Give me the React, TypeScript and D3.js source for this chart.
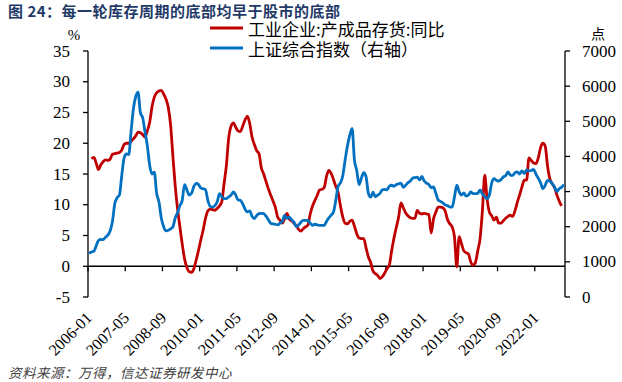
import React from "react";
import * as d3 from "d3";

// 2006-01 .. 2023-01 monthly (205 months)
const months: string[] = d3.range(205).map((i) => {
  const y = 2006 + Math.floor(i / 12);
  const m = (i % 12) + 1;
  return `${y}-${m < 10 ? "0" + m : m}`;
});

const tickLabels = [
  "2006-01", "2007-05", "2008-09", "2010-01", "2011-05", "2012-09", "2014-01",
  "2015-05", "2016-09", "2018-01", "2019-05", "2020-09", "2022-01",
];

const leftTicks = [-5, 0, 5, 10, 15, 20, 25, 30, 35];
const rightTicks = [0, 1000, 2000, 3000, 4000, 5000, 6000, 7000];

// 工业企业:产成品存货:同比 (%), 2006-01 .. 2022-12
const inventoryYoY: (number | null)[] = [
  null, 17.5, 17.7, 16.8, 15.7, 16.5, 17.0, 17.3, 17.2, 17.4,
  18.2, 18.3, 18.4, 18.5, 18.9, 19.8, 20.0, 20.0, 20.3, 20.7,
  21.2, 21.8, 21.7, 21.4, 21.0, 22.0, 23.4, 25.9, 27.5, 28.2,
  28.5, 28.6, 28.0, 27.2, 25.8, 23.0, 17.8, 13.0, 9.3, 6.4,
  3.6, 1.2, -0.2, -0.9, -1.0, -0.4, 1.0, 2.6, 4.3, 5.9,
  7.8, 9.0, 9.3, 9.2, 9.1, 9.4, 9.8, 10.5, 13.5, 16.5,
  21.0, 22.8, 23.3, 22.6, 22.0, 21.9, 22.8, 23.8, 24.4, 23.2,
  21.0, 19.8, 18.8, 18.3, 16.0, 15.0, 13.8, 12.6, 11.6, 10.6,
  9.6, 8.0, 7.5, 7.0, 7.8, 8.6, 7.7, 7.4, 7.0, 6.6,
  6.0, 5.7, 6.1, 6.4, 6.7, 8.5, 9.8, 10.7, 11.5, 12.4,
  12.5, 12.8, 14.6, 15.6, 15.1, 14.1, 13.0, 12.0, 9.8, 8.0,
  7.0, 6.9, 7.3, 7.5, 6.5, 5.3, 4.6, 4.5, 4.5, 3.0,
  1.5, 0.6, -0.8, -1.2, -1.5, -2.0, -1.7, -1.1, -0.4, 0.2,
  2.5, 4.6, 6.3, 8.0, 10.3, 9.5, 8.7, 8.2, 7.9, 7.8,
  7.8, 9.1, 8.6, 8.5, 8.6, 8.5, 8.4, 5.4, 7.7, 8.8,
  9.6, 9.6, 9.5, 9.0, 7.6, 6.9, 6.4, 4.8, -0.1, 4.8,
  3.7, 2.5, 2.2, 2.0, 0.7, 0.2, 0.6, 2.5, 4.5, 9.0,
  14.8, 11.0, 8.8, 8.2, 7.5, 8.0, 7.0, 7.0, 7.4, 7.8,
  8.1, 8.3, 8.1, 9.0, 10.4, 11.6, 12.9, 14.0, 14.0, 17.6,
  17.2, 16.8, 16.7, 17.6, 19.3, 20.0, 19.5, 16.3, 14.2, 13.4,
  12.8, 11.6, 10.6, 9.8,
];

// 上证综合指数 (点), 2006-01 .. 2023-01
const shIndex: number[] = [
  1240, 1280, 1300, 1450, 1610, 1640, 1630, 1700, 1760, 1880,
  2150, 2650, 2820, 2900, 3450, 3950, 4070, 4050, 4700, 5350,
  5700, 5830, 5250, 5100, 4700, 4300, 3750, 3500, 3550, 2950,
  2700, 2250, 2000, 1880, 1900, 1940, 2000, 2250, 2400, 2600,
  2750, 3200, 3050, 2900, 2950, 3150, 3230, 3200, 3100, 3080,
  3050, 2750, 2580, 2560, 2600, 2700, 2940, 2850, 2800, 2800,
  2850, 2900, 2990, 2900, 2760, 2750, 2650, 2500, 2420, 2450,
  2300, 2230, 2320, 2370, 2380, 2370, 2300, 2200, 2100, 2080,
  2070, 2050, 2100, 2150, 2320, 2240, 2270, 2200, 2130, 2000,
  2050, 2130, 2180, 2180, 2180, 2100, 2040, 2070, 2050, 2040,
  2040, 2040, 2150, 2250, 2330, 2420, 2750, 3150, 3250, 3450,
  3900, 4300, 4600, 4800, 3900, 3600, 3200, 3380, 3540, 3420,
  2950, 2840, 2980, 2850, 2900, 2950, 3050, 3060, 3050, 3150,
  3180, 3150, 3200, 3220, 3240, 3120, 3180, 3250, 3300, 3380,
  3400, 3410, 3330, 3430, 3300, 3240, 3200, 3110, 3130, 2950,
  2760, 2720, 2680, 2620, 2600, 2560, 2560, 2850, 3180, 3000,
  2900, 2960, 2870, 2900, 2990, 2940, 2940, 2950, 3050, 2930,
  2850, 2800, 2900, 3250, 3370, 3320, 3300, 3340, 3420, 3450,
  3560, 3470, 3460, 3540, 3560, 3500, 3590, 3510, 3620, 3590,
  3600, 3630, 3500, 3380, 3250, 3080, 3180, 3320, 3300, 3220,
  3130, 3000, 3080, 3120, 3200,
];

const W = 622;
const H = 382;
const L = 88;
const R = 565;
const T = 51;
const B = 297;

const serif = "'Times New Roman', 'Liberation Serif', 'DejaVu Serif', serif";
const cjk = "'Noto Sans CJK SC', 'Noto Sans', sans-serif";

export default function App() {
  const x = d3.scaleLinear().domain([0, months.length]).range([L, R]);
  const yL = d3.scaleLinear().domain([-5, 35]).range([B, T]);
  const yR = d3.scaleLinear().domain([0, 7000]).range([B, T]);
  const cx = (i: number) => x(i + 0.5);

  const redLine = d3
    .line<number | null>()
    .defined((d) => d !== null)
    .x((_, i) => cx(i))
    .y((d) => yL(d as number))
    .curve(d3.curveMonotoneX);
  const blueLine = d3
    .line<number>()
    .x((_, i) => cx(i))
    .y((d) => yR(d))
    .curve(d3.curveMonotoneX);

  const zeroY = yL(0);
  const tickIdx = tickLabels.map((t) => months.indexOf(t));

  return (
    <svg
      width={W}
      height={H}
      style={{ position: "absolute", left: 0, top: 0, background: "#fff" }}
    >
      <text
        x={8}
        y={17}
        fontFamily={cjk}
        fontWeight="bold"
        fontSize={15}
        letterSpacing={0.5}
        fill="#1f3a68"
      >
        图 24：每一轮库存周期的底部均早于股市的底部
      </text>

      {/* legend */}
      <line x1={210} x2={243} y1={28} y2={28} stroke="#C00000" strokeWidth={3} />
      <text x={248} y={28} dominantBaseline="central" fontFamily={cjk} fontSize={17} fill="#000">
        工业企业:产成品存货:同比
      </text>
      <line x1={210} x2={243} y1={48} y2={48} stroke="#0070C0" strokeWidth={3} />
      <text x={248} y={48} dominantBaseline="central" fontFamily={cjk} fontSize={17} fill="#000">
        上证综合指数（右轴）
      </text>

      {/* unit labels */}
      <text x={74} y={40} textAnchor="middle" fontFamily={serif} fontSize={15} fill="#000">
        %
      </text>
      <text x={598} y={39} textAnchor="middle" fontFamily={cjk} fontSize={14} fill="#000">
        点
      </text>

      {/* left axis */}
      <line x1={L} x2={L} y1={T} y2={B} stroke="#000" strokeWidth={1.3} />
      {leftTicks.map((v) => (
        <g key={"l" + v}>
          <line x1={L - 5} x2={L} y1={yL(v)} y2={yL(v)} stroke="#000" strokeWidth={1.3} />
          <text
            x={70}
            y={yL(v)}
            textAnchor="end"
            dominantBaseline="central"
            fontFamily={serif}
            fontSize={17}
            fill="#000"
          >
            {v}
          </text>
        </g>
      ))}

      {/* right axis */}
      <line x1={R} x2={R} y1={T} y2={B} stroke="#000" strokeWidth={1.3} />
      {rightTicks.map((v) => (
        <g key={"r" + v}>
          <line x1={R} x2={R + 5} y1={yR(v)} y2={yR(v)} stroke="#000" strokeWidth={1.3} />
          <text
            x={582}
            y={yR(v)}
            textAnchor="start"
            dominantBaseline="central"
            fontFamily={serif}
            fontSize={17}
            fill="#000"
          >
            {v}
          </text>
        </g>
      ))}

      {/* category axis at zero */}
      <line x1={L} x2={R} y1={zeroY} y2={zeroY} stroke="#000" strokeWidth={1.3} />
      {tickIdx.map((i, k) => (
        <g key={"x" + k}>
          <line x1={x(i)} x2={x(i)} y1={zeroY} y2={zeroY + 5} stroke="#000" strokeWidth={1.3} />
          <text
            transform={`translate(${x(i) + 1},${315}) rotate(-45)`}
            textAnchor="end"
            dominantBaseline="central"
            fontFamily={serif}
            fontSize={16}
            fill="#000"
          >
            {tickLabels[k]}
          </text>
        </g>
      ))}

      {/* series */}
      <path d={redLine(inventoryYoY) || ""} fill="none" stroke="#C00000" strokeWidth={2.8} strokeLinejoin="round" />
      <path d={blueLine(shIndex) || ""} fill="none" stroke="#0070C0" strokeWidth={2.8} strokeLinejoin="round" />

      <text
        x={8}
        y={378}
        fontFamily={cjk}
        fontStyle="italic"
        fontSize={13.5}
        letterSpacing={0.5}
        fill="#404040"
      >
        资料来源：万得，信达证券研发中心
      </text>
    </svg>
  );
}
